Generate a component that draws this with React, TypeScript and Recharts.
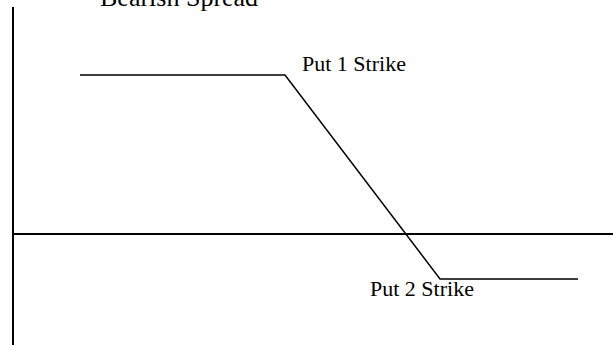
import React from "react";
import { LineChart, Line, XAxis, YAxis, ReferenceLine } from "recharts";

// Underlying price at each vertex of the payoff line
const prices = [13.4, 54.4, 85.4, 113];
// Payoff (profit / loss) at each vertex
const payoffs = [31.5, 31.5, -8.9, -8.9];
// Labels shown next to the vertices
const pointLabels = ["", "Put 1 Strike", "Put 2 Strike", ""];
const title = "Bearish Spread";

const data = prices.map((p, i) => ({ price: p, payoff: payoffs[i], label: pointLabels[i] }));

const FONT = "'Liberation Serif', 'Times New Roman', serif";

const renderLabel = (props: any) => {
  const { x, y, index } = props;
  const text = pointLabels[index];
  if (!text) return null;
  if (index === 1) {
    return (
      <text key={index} x={x + 17} y={y - 4.5} fontFamily={FONT} fontSize={22} fill="#000">
        {text}
      </text>
    );
  }
  return (
    <text key={index} x={x - 70} y={y + 17} fontFamily={FONT} fontSize={22} fill="#000">
      {text}
    </text>
  );
};

export default function App() {
  return (
    <div style={{ position: "absolute", left: 0, top: 0, width: 613, height: 345, background: "#fff" }}>
      <LineChart
        width={613}
        height={345}
        data={data}
        margin={{ top: 7, right: 0, bottom: 0, left: 13 }}
      >
        <XAxis dataKey="price" type="number" domain={[0, 120]} hide />
        <YAxis type="number" domain={[-22, 45]} hide />
        <ReferenceLine x={0} stroke="#000" strokeWidth={2} ifOverflow="extendDomain" />
        <ReferenceLine y={0} stroke="#000" strokeWidth={2} />
        <Line
          dataKey="payoff"
          stroke="#000"
          strokeWidth={1.5}
          dot={false}
          isAnimationActive={false}
          label={renderLabel}
        />
      </LineChart>
      <svg
        width={613}
        height={345}
        style={{ position: "absolute", left: 0, top: 0, pointerEvents: "none" }}
      >
        <text x={100} y={5.5} fontFamily={FONT} fontSize={26} fill="#000">
          {title}
        </text>
      </svg>
    </div>
  );
}
